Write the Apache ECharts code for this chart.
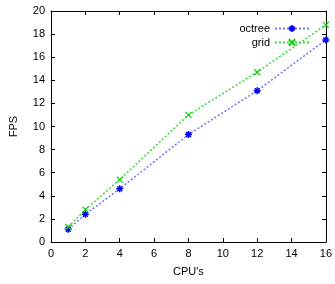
<!DOCTYPE html>
<html>
<head>
    <meta charset="utf-8">
    <title>FPS vs CPU's</title>
    <script src="https://cdn.jsdelivr.net/npm/echarts@6/dist/echarts.min.js"></script>
    <style>
        html, body { margin: 0; padding: 0; background: #fff; }
        #chart { width: 335px; height: 284px; }
    </style>
</head>
<body>
<div id="chart"></div>
<script>
    // data
    var cpus = [1, 2, 4, 8, 12, 16];
    var octree = [1.1, 2.4, 4.6, 9.3, 13.1, 17.5];
    var grid = [1.3, 2.8, 5.4, 11.0, 14.7, 18.8];

    function pairs(ys) {
        return cpus.map(function (c, i) { return [c, ys[i]]; });
    }

    var plusPath = 'path://M5,0L5,10M0,5L10,5M1.5,1.5L8.5,8.5M8.5,1.5L1.5,8.5';
    var crossPath = 'path://M0,0L10,10M10,0L0,10';
    var font = 'Liberation Sans';

    var tickCommon = {
        axisLine: { show: true, onZero: false, lineStyle: { color: '#000', width: 1 } },
        axisTick: { show: true, inside: true, length: 4, lineStyle: { color: '#000' } },
        splitLine: { show: false }
    };

    var option = {
        animation: false,
        textStyle: { fontFamily: font },
        grid: { left: 51, right: 7, top: 11, bottom: 42 },
        legend: {
            top: 18,
            right: 20,
            orient: 'vertical',
            align: 'right',
            itemGap: 3,
            itemWidth: 34,
            itemHeight: 8,
            textStyle: { fontSize: 11, color: '#000', fontFamily: font },
            data: ['octree', 'grid']
        },
        xAxis: [
            Object.assign({
                type: 'value', min: 0, max: 16, interval: 2,
                name: "CPU's", nameLocation: 'middle', nameGap: 24,
                nameTextStyle: { fontSize: 11, color: '#000' },
                axisLabel: { fontSize: 11, color: '#000', margin: 6 }
            }, tickCommon),
            Object.assign({
                type: 'value', min: 0, max: 16, interval: 2, position: 'top',
                axisLabel: { show: false }
            }, tickCommon)
        ],
        yAxis: [
            Object.assign({
                type: 'value', min: 0, max: 20, interval: 2,
                name: 'FPS', nameLocation: 'middle', nameGap: 32,
                nameTextStyle: { fontSize: 11, color: '#000' },
                axisLabel: { fontSize: 11, color: '#000', margin: 6 }
            }, tickCommon),
            Object.assign({
                type: 'value', min: 0, max: 20, interval: 2, position: 'right',
                axisLabel: { show: false }
            }, tickCommon)
        ],
        series: [
            {
                name: 'octree',
                type: 'line',
                data: pairs(octree),
                symbol: plusPath,
                symbolSize: 7,
                showSymbol: true,
                color: '#1a1aff',
                lineStyle: { color: '#4444ff', width: 1.5, type: [2, 2], opacity: 0.75 },
                itemStyle: { color: '#1a1aff', borderColor: '#0000ff', borderWidth: 1.5 }
            },
            {
                name: 'grid',
                type: 'line',
                data: pairs(grid),
                symbol: crossPath,
                symbolSize: 6,
                showSymbol: true,
                color: '#22dd22',
                lineStyle: { color: '#33dd33', width: 1.5, type: [2, 2] },
                itemStyle: { color: '#22dd22', borderColor: '#11cc11', borderWidth: 1.2 }
            }
        ]
    };

    var myChart = echarts.init(document.getElementById('chart'));
    myChart.setOption(option);
</script>
</body>
</html>
